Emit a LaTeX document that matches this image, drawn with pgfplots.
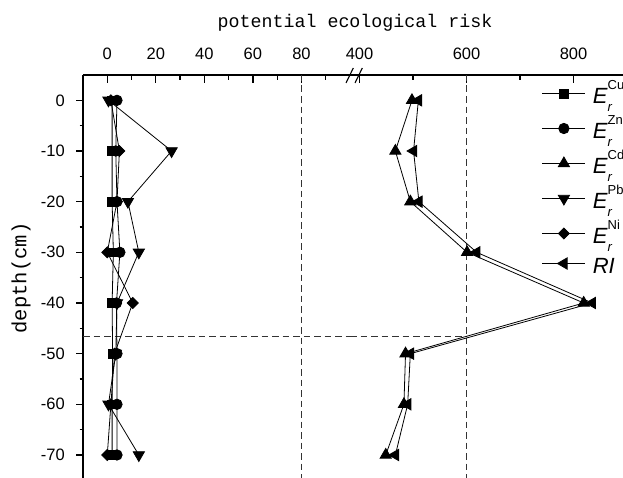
\documentclass[border=0pt]{standalone}
\usepackage{pgfplots}
\pgfplotsset{compat=1.18}
\usepackage{fontspec}
\setmainfont{Liberation Sans}
\newfontfamily\monofont{Liberation Mono}
\newcommand{\lstrut}{\rule[-9pt]{0pt}{37pt}}
\newcommand{\Er}[1]{\lstrut\textit{E}\rlap{\raisebox{-0.4em}{\fontsize{13}{13}\selectfont\textit{r}}}\raisebox{0.6em}{\fontsize{13}{13}\selectfont #1}}
\pgfplotsset{
  base/.style={scale only axis, ymin=-75, ymax=5, height=405.3pt,
    axis line style={-, line width=1.3pt, black},
    tick style={line width=1.2pt, black},
    tick label style={font=\fontsize{16.5}{16.5}\selectfont},
    /pgf/number format/assume math mode=true,
    clip=false},
}
\tikzset{
  ser/.style={black, line width=0.8pt},
  mk/.style={mark options={solid, fill=black, draw=black, rotate=#1}},
  dashline/.style={black!80, line width=1pt, dash pattern=on 6.5pt off 4pt},
}
\begin{document}
\begin{tikzpicture}
\useasboundingbox (0,0) rectangle (623pt,477pt);
% y axis
\begin{axis}[base, at={(83pt,-3.3pt)}, anchor=south west, width=267pt,
  xmin=-10, xmax=100, hide x axis, axis y line*=left,
  ytick={0,-10,-20,-30,-40,-50,-60,-70}, minor ytick={-5,-15,-25,-35,-45,-55,-65,-75},
  tick align=outside, major tick length=7pt, minor tick length=3.5pt,
  yticklabel style={inner sep=0pt, anchor=east, xshift=-11pt}]
\end{axis}
% left segment
\begin{axis}[base, at={(83pt,-3.3pt)}, anchor=south west, width=267pt,
  xmin=-10, xmax=100, axis x line*=top, hide y axis,
  xtick={0,20,40,60,80}, minor xtick={10,30,50,70,90},
  tick align=inside, major tick length=8pt, minor tick length=4.5pt,
  xticklabel style={inner sep=0pt, anchor=south, yshift=15.5pt}]
\draw[dashline] (axis cs:80,5) -- (axis cs:80,-75);
\draw[dashline] (axis cs:-10,-46.7) -- (axis cs:100,-46.7);
\addplot[ser, mark=square*, mark size=4.4pt, mk=0] coordinates {(2,0) (2,-10) (2,-20) (2.5,-30) (2,-40) (2.2,-50) (2,-60) (2,-70)};
\addplot[ser, mark=*, mark size=5.2pt, mk=0] coordinates {(4,0) (3.5,-10) (4,-20) (5.2,-30) (3.8,-40) (4,-50) (4,-60) (4,-70)};
\addplot[ser, mark=triangle*, mark size=6.5pt, mk=180] coordinates {(0.5,0) (26.5,-10) (8.5,-20) (13,-30) (4,-40) (3.5,-50) (0.5,-60) (13,-70)};
\addplot[ser, mark=square*, mark size=3.9pt, mk=45] coordinates {(1.5,0) (5,-10) (4,-20) (0,-30) (10.5,-40) (3,-50) (1.5,-60) (0,-70)};
\end{axis}
% right segment
\begin{axis}[base, at={(350pt,-3.3pt)}, anchor=south west, width=273pt,
  xmin=382.2, xmax=892.5, axis x line*=top, hide y axis,
  xtick={400,600,800}, minor xtick={500,700},
  tick align=inside, major tick length=8pt, minor tick length=4.5pt,
  xticklabel style={inner sep=0pt, anchor=south, yshift=15.5pt},
  legend image code/.code={\path (0pt,-7.5pt) (43pt,7.5pt); \draw[mark repeat=2,mark phase=2,#1] plot coordinates {(0pt,0pt) (21.5pt,0pt) (43pt,0pt)};},
  legend style={draw=none, fill=none, at={(0.7033,1.0)}, anchor=north west,
    inner sep=0pt, outer sep=0pt, row sep=-2pt, column sep=7pt,
    nodes={inner sep=0pt, text depth=}, cells={anchor=center},
    font=\fontsize{22}{22}\selectfont},
  legend cell align=left]
\draw[dashline] (axis cs:600,5) -- (axis cs:600,-75);
\draw[dashline] (axis cs:382.2,-46.7) -- (axis cs:600,-46.7);
\addlegendimage{ser, mark=square*, mark size=4.4pt, mk=0}
\addlegendentry{\Er{Cu}}
\addlegendimage{ser, mark=*, mark size=5.2pt, mk=0}
\addlegendentry{\Er{Zn}}
\addplot[ser, mark=triangle*, mark size=6.5pt, mk=0] coordinates {(498,0) (467,-10) (495,-20) (601,-30) (819,-40) (486,-50) (483,-60) (449,-70)};
\addlegendentry{\Er{Cd}}
\addlegendimage{ser, mark=triangle*, mark size=6.5pt, mk=180}
\addlegendentry{\Er{Pb}}
\addlegendimage{ser, mark=square*, mark size=3.9pt, mk=45}
\addlegendentry{\Er{Ni}}
\addplot[ser, mark=triangle*, mark size=6.5pt, mk=90] coordinates {(510,0) (501,-10) (511,-20) (619,-30) (835,-40) (495,-50) (490,-60) (467,-70)};
\addlegendentry{\rule[-4pt]{0pt}{27pt}\textit{RI}}
\end{axis}
% axis break
\draw[line width=1.1pt] (346pt,394pt) -- (353.3pt,409pt);
\draw[line width=1.1pt] (355pt,394pt) -- (362.3pt,409pt);
% titles
\node[font=\monofont\fontsize{18.3}{18.3}\selectfont, anchor=base] at (355pt,449.5pt) {potential ecological risk};
\node[font=\monofont\fontsize{20.5}{20.5}\selectfont, rotate=90] at (21pt,199pt) {depth(cm)};
\end{tikzpicture}
\end{document}
